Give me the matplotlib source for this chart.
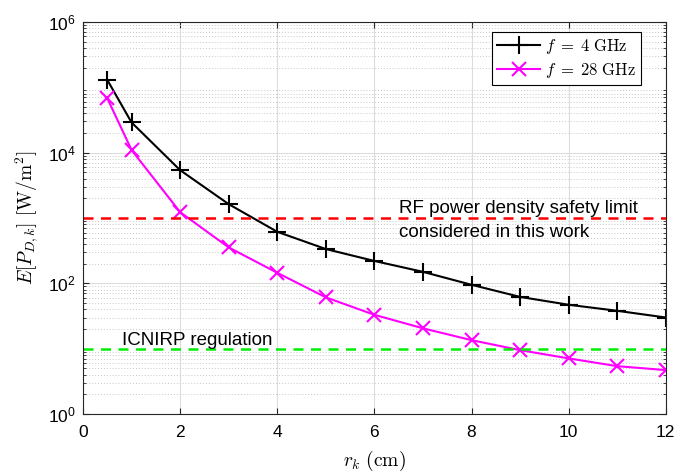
import matplotlib
matplotlib.use("Agg")
import matplotlib.pyplot as plt
import numpy as np

plt.rcParams['font.family'] = ['Liberation Sans', 'DejaVu Sans']
plt.rcParams['mathtext.fontset'] = 'custom'
plt.rcParams['mathtext.rm'] = 'Liberation Sans'
plt.rcParams['mathtext.it'] = 'Liberation Sans:italic'
plt.rcParams['mathtext.bf'] = 'Liberation Sans:bold'

r_k = [0.5, 1, 2, 3, 4, 5, 6, 7, 8, 9, 10, 11, 12]
pd_4ghz = [1.3e5, 2.9e4, 5.4e3, 1630, 615, 335, 220, 150, 95, 62, 47, 38, 30]
pd_28ghz = [6.8e4, 1.1e4, 1230, 355, 145, 61, 33, 20.5, 13.5, 9.5, 7.1, 5.4, 4.7]
safety_limit = 1000
icnirp_limit = 10
labels = [r'$f\;=\;4\ \mathrm{GHz}$', r'$f\;=\;28\ \mathrm{GHz}$']

fig = plt.figure(figsize=(6.78, 4.73), dpi=100)
ax = fig.add_axes([0.1224, 0.1247, 0.8596, 0.8288])

ax.plot(r_k, pd_4ghz, color='black', marker='+', markersize=13, markeredgewidth=1.5,
        linewidth=1.5, label=labels[0])
ax.plot(r_k, pd_28ghz, color='#ff00ff', marker='x', markersize=10, markeredgewidth=1.5,
        linewidth=1.5, label=labels[1])
ax.axhline(safety_limit, color='#ff0000', linestyle=(0, (4, 3)), linewidth=1.8)
ax.axhline(icnirp_limit, color='#00ee00', linestyle=(0, (4, 3)), linewidth=1.8)

ax.set_yscale('log')
ax.set_xlim(0, 12)
ax.set_ylim(1, 1e6)
ax.set_xticks(np.arange(0, 13, 2))
ax.set_yticks([1e0, 1e2, 1e4, 1e6])
ax.set_yticklabels([r'$10^{0}$', r'$10^{2}$', r'$10^{4}$', r'$10^{6}$'])
ax.yaxis.set_minor_locator(matplotlib.ticker.LogLocator(base=10, subs=np.arange(2, 10), numticks=20))
ax.yaxis.set_minor_formatter(matplotlib.ticker.NullFormatter())

ax.grid(True, which='major', color='#dcdcdc', linewidth=0.8, linestyle='-')
ax.grid(True, which='minor', axis='y', color='#c8c8c8', linewidth=0.7, linestyle=(0, (1, 2)))
ax.set_axisbelow(True)
ax.tick_params(which='both', direction='in', top=True, right=True, labelsize=12.5,
               color='#262626')
ax.tick_params(axis='x', which='major', length=4, pad=8)
ax.tick_params(axis='y', which='major', length=4, pad=5)
ax.tick_params(which='minor', length=2.5)
for s in ax.spines.values():
    s.set_linewidth(0.8)
    s.set_color('#262626')

ax.text(6.5, 1000 * 1.19, 'RF power density safety limit', fontsize=13.5, va='baseline')
ax.text(6.5, 512, 'considered in this work', fontsize=13.5, va='baseline')
ax.text(0.8, 11.5, 'ICNIRP regulation', fontsize=13.5, va='baseline')

ax.set_xlabel(r'$r_k\ \mathrm{(cm)}$', fontsize=14, math_fontfamily='cm', labelpad=6)
ax.set_ylabel(r'$E[P_{D,k}]\ [\mathrm{W/m}^2]$', fontsize=14, math_fontfamily='cm', labelpad=6)

leg = ax.legend(loc='upper right', bbox_to_anchor=(641 / 678, 1 - 32 / 473),
                bbox_transform=fig.transFigure, fontsize=12, frameon=True, fancybox=False,
                edgecolor='black', framealpha=1, borderaxespad=0, handlelength=2.6,
                borderpad=0.3, labelspacing=0.3, handletextpad=0.3)
leg.get_frame().set_linewidth(0.8)
for t in leg.get_texts():
    t.set_math_fontfamily('cm')

fig.savefig('out.png', dpi=100)
